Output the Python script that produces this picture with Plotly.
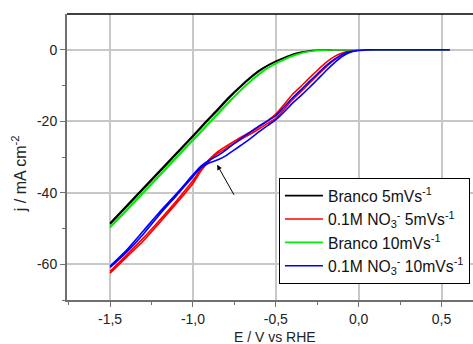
import plotly.graph_objects as go

# Potential (V vs RHE) for the sweep
E = [-1.5, -1.4, -1.3, -1.2, -1.1, -1.0, -0.95, -0.9, -0.85, -0.8, -0.75, -0.7, -0.65, -0.6,
     -0.55, -0.5, -0.45, -0.4, -0.35, -0.3, -0.25, -0.2, -0.15, -0.1, -0.05, 0.0, 0.05, 0.1,
     0.2, 0.3, 0.4, 0.55]

branco5_fwd = [-48.5, -43.6, -38.7, -33.8, -28.9, -24.0, -21.5, -19.0, -16.6, -14.1, -11.8, -9.6,
               -7.6, -5.8, -4.4, -3.2, -2.2, -1.3, -0.7, -0.35, -0.15, -0.05, 0, 0, 0, 0, 0, 0,
               0, 0, 0, 0]
branco5_rev = [-48.8, -43.9, -39.0, -34.1, -29.2, -24.3, -21.8, -19.3, -16.9, -14.4, -12.0, -9.8,
               -7.8, -6.0, -4.5, -3.3, -2.3, -1.4, -0.75, -0.4, -0.15, -0.05, 0, 0, 0, 0, 0, 0,
               0, 0, 0, 0]

nitrato5_fwd = [-62.0, -57.4, -52.7, -47.6, -42.3, -36.6, -33.3, -30.6, -28.5, -27.0, -25.6, -24.2,
                -22.9, -21.5, -19.9, -18.0, -15.3, -12.5, -10.3, -8.0, -5.8, -3.7, -2.0, -0.9,
                -0.3, -0.1, 0, 0, 0, 0, 0, 0]
nitrato5_rev = [-62.5, -58.0, -53.5, -48.3, -43.0, -37.4, -33.8, -31.0, -29.0, -27.6, -26.2, -24.8,
                -23.5, -22.1, -20.6, -19.2, -16.7, -14.0, -11.8, -9.5, -7.2, -5.0, -3.0, -1.5,
                -0.5, -0.1, 0, 0, 0, 0, 0, 0]

branco10_fwd = [-49.5, -44.7, -39.8, -34.9, -30.0, -25.1, -22.7, -20.2, -17.8, -15.3, -13.0, -10.7,
                -8.6, -6.7, -5.1, -3.8, -2.7, -1.7, -1.0, -0.5, -0.2, -0.1, 0, 0, 0, 0, 0, 0,
                0, 0, 0, 0]
branco10_rev = [-49.8, -45.0, -40.1, -35.2, -30.3, -25.4, -23.0, -20.5, -18.1, -15.6, -13.2, -10.9,
                -8.8, -6.9, -5.2, -3.9, -2.8, -1.8, -1.05, -0.5, -0.2, -0.1, 0, 0, 0, 0, 0, 0,
                0, 0, 0, 0]

nitrato10_fwd = [-60.5, -56.0, -50.7, -45.3, -40.3, -35.0, -32.5, -30.9, -29.6, -28.0, -26.2, -24.5,
                 -22.9, -21.3, -19.9, -18.4, -16.0, -13.5, -11.3, -9.0, -6.8, -4.6, -2.8, -1.3,
                 -0.5, -0.15, 0, 0, 0, 0, 0, 0]
nitrato10_rev = [-60.9, -56.6, -51.6, -46.0, -40.8, -35.5, -33.0, -31.6, -30.8, -29.6, -28.0, -26.4,
                 -24.7, -22.9, -21.2, -19.6, -17.4, -15.0, -12.9, -10.7, -8.4, -6.0, -3.8, -1.9,
                 -0.7, -0.2, -0.05, 0, 0, 0, 0, 0]

series_names = ["Branco 5mVs<sup>-1</sup>",
                "0.1M NO<sub>3</sub><sup>-</sup> 5mVs<sup>-1</sup>",
                "Branco 10mVs<sup>-1</sup>",
                "0.1M NO<sub>3</sub><sup>-</sup> 10mVs<sup>-1</sup>"]
series_colors = ["#000000", "#ff0000", "#00ee00", "#0000ff"]
series_data = [(branco5_fwd, branco5_rev), (nitrato5_fwd, nitrato5_rev),
               (branco10_fwd, branco10_rev), (nitrato10_fwd, nitrato10_rev)]

x_tickvals = [-1.5, -1.0, -0.5, 0.0, 0.5]
x_ticktext = ["-1,5", "-1,0", "-0,5", "0,0", "0,5"]
y_tickvals = [0, -20, -40, -60]
y_ticktext = ["0", "-20", "-40", "-60"]
x_title = "E / V vs RHE"
y_title = "j / mA cm<sup>-2</sup>"

fig = go.Figure()
for name, color, (fwd, rev) in zip(series_names, series_colors, series_data):
    xs = E + E[::-1]
    ys = fwd + rev[::-1]
    fig.add_trace(go.Scatter(x=xs, y=ys, mode="lines", name=name,
                             line=dict(color=color, width=1.6, shape="spline", smoothing=0.6)))

fig.add_annotation(x=-0.854, y=-32.2, ax=-0.747, ay=-41.0, xref="x", yref="y",
                   axref="x", ayref="y", showarrow=True, arrowhead=2, arrowsize=1,
                   arrowwidth=1, arrowcolor="#000000", text="")

fig.add_shape(type="line", xref="paper", yref="paper", x0=0, x1=1, y0=1, y1=1,
              line=dict(color="#000000", width=1.5))

font = "Liberation Sans, Arial, sans-serif"

# axis titles as annotations (positioned like the reference)
fig.add_annotation(text=x_title, xref="paper", yref="paper", x=0.512, y=-0.129,
                   xanchor="center", yanchor="middle", showarrow=False,
                   font=dict(family=font, size=14, color="#222222"))
fig.add_annotation(text=y_title, xref="paper", yref="paper", x=-0.118, y=0.44,
                   xanchor="center", yanchor="middle", showarrow=False, textangle=-90,
                   font=dict(family=font, size=16, color="#222222"))

fig.update_layout(
    width=473, height=344,
    margin=dict(l=67, r=0, t=14, b=44),
    paper_bgcolor="white", plot_bgcolor="white",
    font=dict(family=font, size=14, color="#222222"),
    showlegend=True,
    legend=dict(x=0.522, y=0.427, xanchor="left", yanchor="top",
                bordercolor="#000000", borderwidth=1, bgcolor="white",
                font=dict(family=font, size=15.7, color="#111111"),
                tracegroupgap=0, itemwidth=38),
    xaxis=dict(range=[-1.76, 0.69], tickvals=x_tickvals, ticktext=x_ticktext,
               automargin=False,
               showgrid=True, gridcolor="#c8c8c8", gridwidth=1.5,
               showline=True, linecolor="#707070", linewidth=2,
               ticks="outside", ticklen=5, tickcolor="#707070", tickwidth=1,
               minor=dict(tickvals=[-1.75, -1.25, -0.75, -0.25, 0.25], ticks="outside",
                          ticklen=3, tickcolor="#707070", showgrid=False),
               zeroline=False),
    yaxis=dict(range=[-70, 10], tickvals=y_tickvals, ticktext=y_ticktext,
               automargin=False,
               showgrid=True, gridcolor="#c8c8c8", gridwidth=1.5,
               showline=True, linecolor="#707070", linewidth=2,
               ticks="outside", ticklen=5, tickcolor="#707070", tickwidth=1,
               minor=dict(tickvals=[-70, -50, -30, -10], ticks="outside",
                          ticklen=3, tickcolor="#707070", showgrid=False),
               zeroline=False),
)

fig.write_html("out.html", config={"displayModeBar": False},
               post_script="document.body.style.margin='0';")
